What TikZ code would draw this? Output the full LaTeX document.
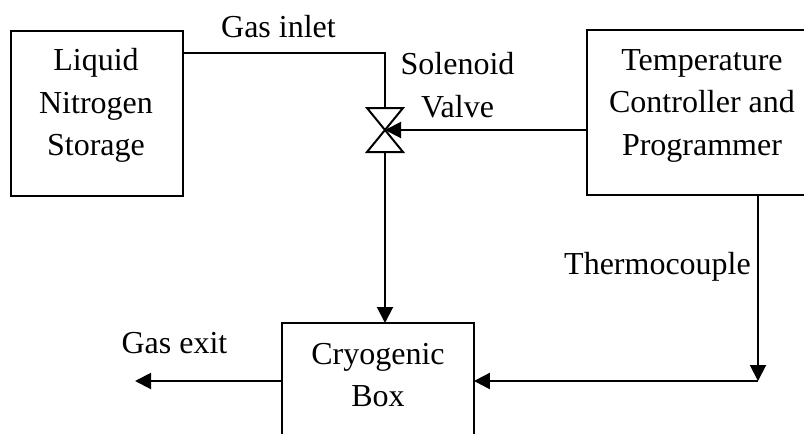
\documentclass[tikz,border=0pt]{standalone}
\usepackage{fontspec}
\setmainfont{Liberation Serif}
\usetikzlibrary{arrows.meta}
\tikzset{
  x=1pt,y=-1pt,
  ln/.style={line width=2pt,black},
  arr/.style={ln,-{Triangle[length=16pt,width=16pt]}},
  box/.style={inner sep=0pt,anchor=north west},
  lbl/.style={inner sep=0pt,align=center,font=\fontsize{32}{42.5}\selectfont,text=black}
}
\begin{document}
\begin{tikzpicture}
\useasboundingbox (0,0) rectangle (804,434);
\node[box,draw,line width=2pt,minimum width=172pt,minimum height=164.5pt] (liquid) at (10,30) {};
\node[box,minimum width=217pt,minimum height=164.5pt] (temp) at (587,30) {};
\draw[ln] (temp.north east) -| (temp.south west) -- (temp.south east);
\node[box,minimum width=191.5pt,minimum height=111pt] (cryo) at (282,323) {};
\draw[ln] (cryo.south west) |- (cryo.north east) -- (cryo.south east);
\node[lbl] (liquidt) at (96,105.5) {Liquid\\Nitrogen\\Storage};
\node[lbl] (tempt) at (702,105.5) {Temperature\\Controller and\\Programmer};
\node[lbl] (cryot) at (378,375) {Cryogenic\\Box};
\node[lbl] (inlet) at (278.5,27) {Gas inlet};
\node[lbl] (valvet) at (457.5,85) {Solenoid\\Valve};
\node[lbl] (thermo) at (657.5,267) {Thermocouple};
\node[lbl] (exit) at (174.5,343.5) {Gas exit};
\coordinate (vc) at (385,130);
\coordinate (vt) at (385,108);
\coordinate (vb) at (385,152);
\coordinate (bend) at (385,53);
\coordinate (join) at (758,381);
\coordinate (gasout) at (135,381);
\draw[ln,line join=miter] (367,108) -- (403,108) -- (367,152) -- (403,152) -- cycle;
\draw[ln] (liquid.north east |- bend) -- (bend) -- (vt);
\draw[arr] (vb) -- (cryo.north -| vb);
\draw[arr] (temp.west |- vc) -- (vc);
\draw[arr] (temp.south -| join) -- (join);
\draw[arr] (join) -- (cryo.east |- join);
\draw[arr] (cryo.west |- join) -- (gasout);
\end{tikzpicture}
\end{document}
